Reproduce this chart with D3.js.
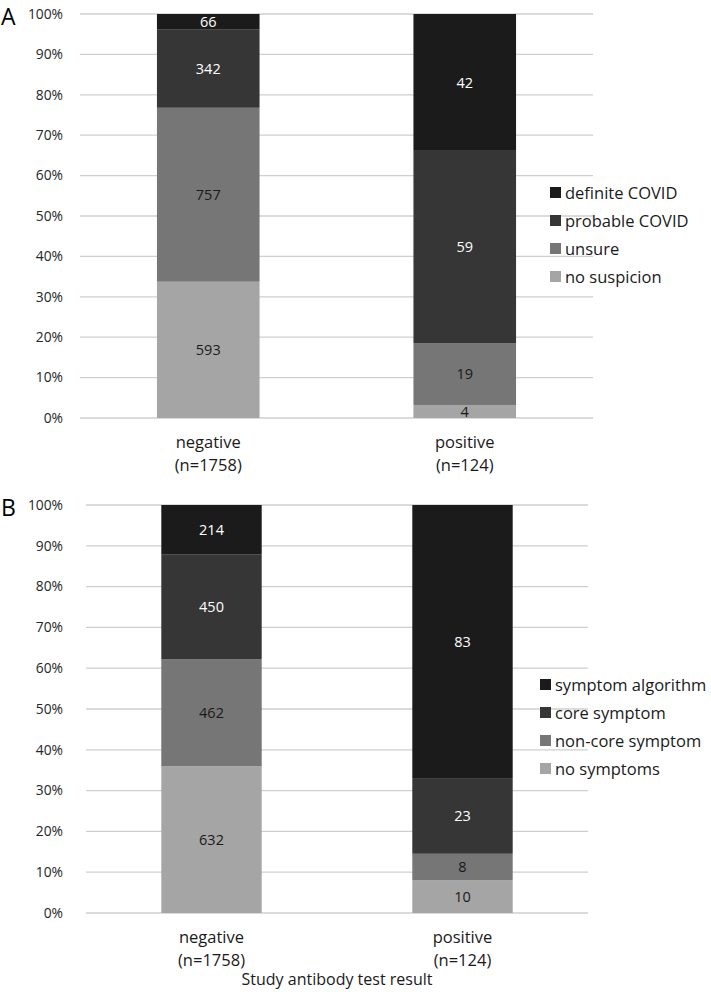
<!DOCTYPE html>
<html>
<head>
<meta charset="utf-8">
<script src="https://cdn.jsdelivr.net/npm/d3@7"></script>
<style>
  html, body { margin: 0; padding: 0; background: #fff; }
  svg { display: block; font-family: "Open Sans", Lato, sans-serif; }
</style>
</head>
<body>
<div id="chart"></div>
<script>
// categories along the x axis
const categories = ["negative", "positive"];
const sampleSizes = [1758, 124];
const yTicks = [0, 0.1, 0.2, 0.3, 0.4, 0.5, 0.6, 0.7, 0.8, 0.9, 1];

// panel A: clinical suspicion (bottom to top)
const seriesA = ["no suspicion", "unsure", "probable COVID", "definite COVID"];
const noSuspicion = [593, 4];
const unsure = [757, 19];
const probableCovid = [342, 59];
const definiteCovid = [66, 42];

// panel B: symptoms (bottom to top)
const seriesB = ["no symptoms", "non-core symptom", "core symptom", "symptom algorithm"];
const noSymptoms = [632, 10];
const nonCoreSymptom = [462, 8];
const coreSymptom = [450, 23];
const symptomAlgorithm = [214, 83];

const width = 711, height = 992;
const fills = ["#a5a5a5", "#767676", "#363636", "#1b1b1b"];
const labelFills = ["#1a1a1a", "#1a1a1a", "#ffffff", "#ffffff"];

const svg = d3.select("#chart").append("svg")
  .attr("width", width)
  .attr("height", height);

function drawPanel(opts) {
  const { letter, keys, columns, x0, x1, yTop, yBottom, legendX, legendY, legendStep } = opts;

  const rows = categories.map((c, i) => {
    const r = { category: c };
    keys.forEach((k, j) => { r[k] = columns[j][i]; });
    return r;
  });
  const stacked = d3.stack().keys(keys).offset(d3.stackOffsetExpand)(rows);

  const x = d3.scaleBand().domain(categories).range([x0, x1])
    .paddingInner(0.6).paddingOuter(0.3);
  const y = d3.scaleLinear().domain([0, 1]).range([yBottom, yTop]);

  const g = svg.append("g");

  // gridlines
  g.selectAll("line.grid").data(yTicks).join("line")
    .attr("x1", x0).attr("x2", x1)
    .attr("y1", d => y(d)).attr("y2", d => y(d))
    .attr("stroke", "#cfcfcf").attr("stroke-width", 1.3);

  // y tick labels
  g.selectAll("text.tick").data(yTicks).join("text")
    .attr("x", 63).attr("y", d => y(d))
    .attr("dy", "0.35em")
    .attr("text-anchor", "end")
    .attr("font-size", 13.8)
    .attr("fill", "#262626")
    .text(d => d3.format(".0%")(d));

  // panel letter
  g.append("text")
    .attr("x", 1).attr("y", yTop + 10.5)
    .attr("font-size", 23)
    .attr("fill", "#000")
    .text(letter);

  // bars
  const layer = g.selectAll("g.layer").data(stacked).join("g")
    .attr("fill", (d, i) => fills[i]);
  layer.selectAll("rect").data(d => d).join("rect")
    .attr("x", d => x(d.data.category))
    .attr("width", x.bandwidth())
    .attr("y", d => y(d[1]))
    .attr("height", d => y(d[0]) - y(d[1]));

  // segment counts
  stacked.forEach((s, i) => {
    g.selectAll(null).data(s).join("text")
      .attr("x", d => x(d.data.category) + x.bandwidth() / 2)
      .attr("y", d => (y(d[0]) + y(d[1])) / 2)
      .attr("dy", "0.36em")
      .attr("text-anchor", "middle")
      .attr("font-size", 14.5)
      .attr("fill", labelFills[i])
      .text(d => d.data[s.key]);
  });

  // category labels
  categories.forEach((c, i) => {
    const cx = x(c) + x.bandwidth() / 2;
    const t = g.append("text")
      .attr("text-anchor", "middle")
      .attr("font-size", 16.5)
      .attr("fill", "#1a1a1a");
    t.append("tspan").attr("x", cx).attr("y", yBottom + 30).text(c);
    t.append("tspan").attr("x", cx).attr("y", yBottom + 53).text(`(n=${sampleSizes[i]})`);
  });

  // legend (top to bottom: darkest first)
  const legendKeys = keys.slice().reverse();
  const lg = g.selectAll("g.legend").data(legendKeys).join("g")
    .attr("transform", (d, i) => `translate(${legendX},${legendY + i * legendStep})`);
  lg.append("rect")
    .attr("x", 0).attr("y", -6).attr("width", 11).attr("height", 11)
    .attr("fill", (d, i) => fills[keys.length - 1 - i]);
  lg.append("text")
    .attr("x", 15).attr("dy", "0.35em")
    .attr("font-size", 16.5)
    .attr("fill", "#1a1a1a")
    .text(d => d);

  return x;
}

drawPanel({
  letter: "A", keys: seriesA,
  columns: [noSuspicion, unsure, probableCovid, definiteCovid],
  x0: 80, x1: 593, yTop: 14, yBottom: 418,
  legendX: 550, legendY: 193, legendStep: 28
});

drawPanel({
  letter: "B", keys: seriesB,
  columns: [noSymptoms, nonCoreSymptom, coreSymptom, symptomAlgorithm],
  x0: 86, x1: 588, yTop: 505, yBottom: 913,
  legendX: 540, legendY: 685, legendStep: 28
});

svg.append("text")
  .attr("x", 337).attr("y", 985)
  .attr("text-anchor", "middle")
  .attr("font-size", 16)
  .attr("fill", "#1a1a1a")
  .text("Study antibody test result");
</script>
</body>
</html>
